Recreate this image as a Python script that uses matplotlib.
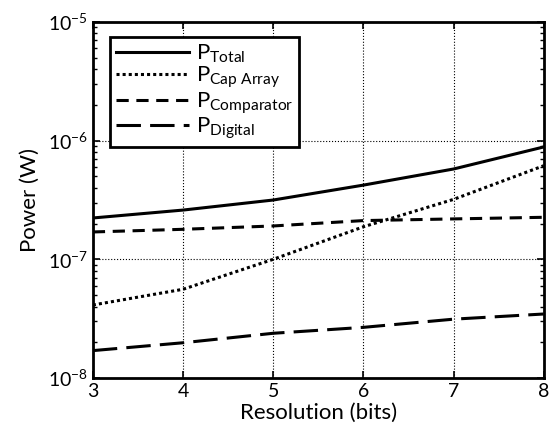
import numpy as np
import matplotlib
matplotlib.use("Agg")
import matplotlib.pyplot as plt

plt.rcParams['font.family'] = ['Lato', 'DejaVu Sans']
plt.rcParams['mathtext.fontset'] = 'custom'
plt.rcParams['mathtext.rm'] = 'Lato'
plt.rcParams['mathtext.it'] = 'Lato'
plt.rcParams['mathtext.default'] = 'regular'

# resolution in bits
bits = [3, 4, 5, 6, 7, 8]
# power values (W)
p_total = [2.23e-7, 2.6e-7, 3.16e-7, 4.22e-7, 5.77e-7, 8.85e-7]
p_cap = [4.12e-8, 5.59e-8, 1.0e-7, 1.88e-7, 3.2e-7, 6.15e-7]
p_comp = [1.70e-7, 1.79e-7, 1.91e-7, 2.12e-7, 2.19e-7, 2.26e-7]
p_dig = [1.70e-8, 1.98e-8, 2.38e-8, 2.67e-8, 3.13e-8, 3.46e-8]
labels = [r'P$_{Total}$', r'P$_{Cap\ Array}$', r'P$_{Comparator}$', r'P$_{Digital}$']

fig = plt.figure(figsize=(5.56, 4.4), dpi=100)
ax = fig.add_axes([0.167, 0.141, 0.811, 0.809])

lw = 2.2
ax.plot(bits, p_total, color='k', lw=lw, linestyle='-', label=labels[0])
ax.plot(bits, p_cap, color='k', lw=lw, linestyle=(0, (1, 1)), label=labels[1])
ax.plot(bits, p_comp, color='k', lw=lw, linestyle=(0, (4, 2.5)), label=labels[2])
ax.plot(bits, p_dig, color='k', lw=lw, linestyle=(0, (8, 3)), label=labels[3])

ax.set_yscale('log')
ax.set_xlim(3, 8)
ax.set_ylim(1e-8, 1e-5)
ax.set_xticks(bits)
ax.grid(True, which='major', color='k', linestyle=':', linewidth=0.8)
ax.tick_params(which='both', direction='in', top=True, right=True, labelsize=14)
ax.tick_params(which='major', length=5, width=1.2)
ax.tick_params(which='minor', length=3, width=1.0)
for s in ax.spines.values():
    s.set_linewidth(2)

ax.set_xlabel('Resolution (bits)', fontsize=16, labelpad=2)
ax.set_ylabel('Power (W)', fontsize=16, labelpad=6)

leg = ax.legend(loc='upper left', bbox_to_anchor=(0.038, 0.958), fontsize=16,
                handlelength=3.3, handletextpad=0.3, borderpad=0.25,
                borderaxespad=0, labelspacing=0.0, fancybox=False,
                framealpha=1)
leg.get_frame().set_edgecolor('k')
leg.get_frame().set_linewidth(2)

fig.savefig('out.png', dpi=100)
